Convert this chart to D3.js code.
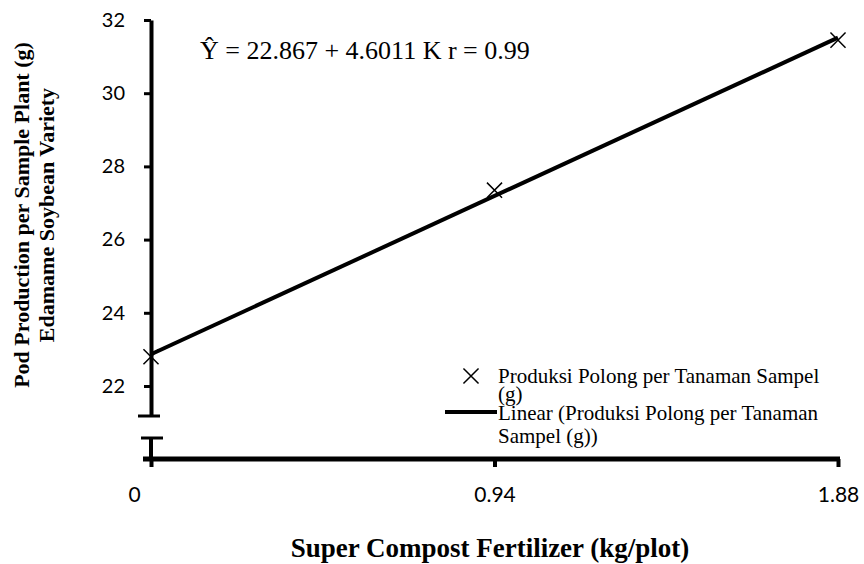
<!DOCTYPE html>
<html>
<head>
<meta charset="utf-8">
<script src="https://cdn.jsdelivr.net/npm/d3@7"></script>
<style>
  body { margin: 0; background: #fff; }
  svg { display: block; }
</style>
</head>
<body>
<svg id="chart" width="864" height="564"></svg>
<script>
// ---- data ----
const doses = [0, 0.94, 1.88];                 // kg/plot
const podWeight = [22.8, 27.35, 31.45];        // g
const yTicks = [22, 24, 26, 28, 30, 32];
const xTickLabels = ["0", "0.94", "1.88"];
const intercept = 22.867;
const slope = 4.6011;
const equationText = "Ŷ = 22.867 + 4.6011 K r = 0.99";
const legendPoint = ["Produksi Polong per Tanaman Sampel", "(g)"];
const legendLine = ["Linear (Produksi Polong per Tanaman", "Sampel (g))"];
const yTitle = ["Pod Production per Sample Plant (g)", "Edamame Soybean Variety"];
const xTitle = "Super Compost Fertilizer (kg/plot)";

const svg = d3.select("#chart");
const serif = "'Liberation Serif','Times New Roman',serif";
const sans = "Lato, 'Open Sans', sans-serif";

const x = d3.scaleLinear().domain([0, 1.88]).range([151, 838]);
const y = d3.scaleLinear().domain([21.18, 32]).range([416, 20]);
const xAxisY = 459;

// ---- y axis ----
const yAxis = svg.append("g").attr("transform", `translate(${x(0)},0)`)
  .call(d3.axisLeft(y).tickValues(yTicks).tickSize(7).tickSizeOuter(0).tickPadding(19));
yAxis.select(".domain").attr("stroke-width", 4);
yAxis.selectAll(".tick line").attr("stroke-width", 3);
yAxis.selectAll(".tick text").attr("font-family", sans).attr("font-size", 20).attr("fill", "#000");

// axis break caps
svg.append("line").attr("x1", x(0) - 13).attr("x2", x(0) + 9)
  .attr("y1", y.range()[0]).attr("y2", y.range()[0]).attr("stroke", "#000").attr("stroke-width", 3);
svg.append("line").attr("x1", x(0) - 10).attr("x2", x(0) + 12)
  .attr("y1", 438).attr("y2", 438).attr("stroke", "#000").attr("stroke-width", 3);
svg.append("line").attr("x1", x(0)).attr("x2", x(0))
  .attr("y1", 438).attr("y2", xAxisY).attr("stroke", "#000").attr("stroke-width", 4);

// ---- x axis ----
const xAxis = svg.append("g").attr("transform", `translate(0,${xAxisY})`)
  .call(d3.axisBottom(x).tickValues(doses).tickSize(8).tickSizeOuter(0).tickPadding(20)
    .tickFormat((d, i) => xTickLabels[i]));
xAxis.select(".domain").remove();
xAxis.selectAll(".tick line").attr("stroke-width", 4);
xAxis.selectAll(".tick text").attr("font-family", sans).attr("font-size", 21).attr("fill", "#000")
  .attr("dx", (d, i) => i === 0 ? -17 : 0);
svg.append("line").attr("x1", x(0) - 8).attr("x2", x(1.88) + 2)
  .attr("y1", xAxisY).attr("y2", xAxisY).attr("stroke", "#000").attr("stroke-width", 5);

// ---- regression line ----
svg.append("line")
  .attr("x1", x(0)).attr("y1", y(intercept))
  .attr("x2", x(1.88)).attr("y2", y(intercept + slope * 1.88))
  .attr("stroke", "#000").attr("stroke-width", 4);

// ---- points (crosses) ----
const cross = d3.symbol().type(d3.symbolX).size(150);
svg.selectAll("path.pt").data(doses).join("path").attr("class", "pt")
  .attr("d", cross)
  .attr("transform", (d, i) => `translate(${x(d)},${y(podWeight[i])})`)
  .attr("fill", "none").attr("stroke", "#000").attr("stroke-width", 1.5);

// ---- equation ----
svg.append("text").attr("x", 200).attr("y", 59)
  .attr("font-family", serif).attr("font-size", 26).attr("fill", "#000")
  .text(equationText);

// ---- legend ----
const lg = svg.append("g").attr("font-family", serif).attr("font-size", 21).attr("fill", "#000");
lg.append("path").attr("d", cross).attr("transform", "translate(471,376)")
  .attr("fill", "none").attr("stroke", "#000").attr("stroke-width", 1.5);
lg.append("text").attr("x", 498).attr("y", 383).text(legendPoint[0]);
lg.append("text").attr("x", 498).attr("y", 401).text(legendPoint[1]);
lg.append("line").attr("x1", 445).attr("x2", 497).attr("y1", 412).attr("y2", 412)
  .attr("stroke", "#000").attr("stroke-width", 4);
lg.append("text").attr("x", 498).attr("y", 420).text(legendLine[0]);
lg.append("text").attr("x", 498).attr("y", 443).text(legendLine[1]);

// ---- axis titles ----
const yt = svg.append("text").attr("transform", "translate(0,215) rotate(-90)")
  .attr("text-anchor", "middle").attr("font-family", serif).attr("font-weight", "bold")
  .attr("font-size", 22).attr("fill", "#000");
yt.append("tspan").attr("x", 0).attr("y", 29).text(yTitle[0]);
yt.append("tspan").attr("x", 0).attr("y", 54).text(yTitle[1]);

svg.append("text").attr("x", 490).attr("y", 557).attr("text-anchor", "middle")
  .attr("font-family", serif).attr("font-weight", "bold").attr("font-size", 27).attr("fill", "#000")
  .text(xTitle);
</script>
</body>
</html>
